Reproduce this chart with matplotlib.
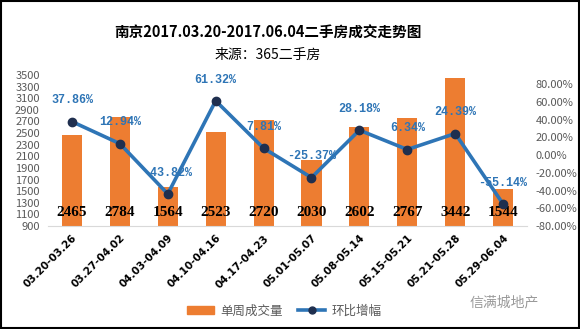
import matplotlib.pyplot as plt
from matplotlib.lines import Line2D
from matplotlib.patches import Patch, Rectangle
import numpy as np

plt.rcParams['font.family'] = ['Noto Sans CJK SC', 'DejaVu Sans']

# 周成交数据
weeks = ["03.20-03.26", "03.27-04.02", "04.03-04.09", "04.10-04.16", "04.17-04.23",
         "05.01-05.07", "05.08-05.14", "05.15-05.21", "05.21-05.28", "05.29-06.04"]
volume = [2465, 2784, 1564, 2523, 2720, 2030, 2602, 2767, 3442, 1544]
growth = [37.86, 12.94, -43.82, 61.32, 7.81, -25.37, 28.18, 6.34, 24.39, -55.14]

orange = "#ed7d31"
blue = "#2e75b6"
grey = "#595959"

fig = plt.figure(figsize=(5.8, 3.29), dpi=100)
ax = fig.add_axes([0.0828, 0.3131, 0.8259, 0.459])
ax2 = ax.twinx()

x = np.arange(len(weeks))
ax.bar(x, volume, width=0.42, color=orange, zorder=2)
ax.set_ylim(900, 3500)
ax.set_xlim(-0.5, len(weeks) - 0.5)
ax.set_yticks(np.arange(900, 3501, 200))
ax.tick_params(axis='y', length=0, labelsize=8, labelcolor=grey, pad=6)
ax.set_xticks(x)
ax.set_xticklabels(weeks, rotation=45, ha='right', rotation_mode='anchor',
                   fontsize=7.5, fontweight='bold', family='DejaVu Sans')
ax.tick_params(axis='x', length=0, pad=5)

for s in ['top', 'left', 'right']:
    ax.spines[s].set_visible(False)
    ax2.spines[s].set_visible(False)
ax.spines['bottom'].set_color("#d9d9d9")
ax2.spines['bottom'].set_visible(False)

# 柱内数值
for xi, v in zip(x, volume):
    ax.text(xi, 1020, str(v), ha='center', va='bottom', fontsize=11,
            fontweight='bold', family='Liberation Serif', color='black', zorder=5)

# 环比折线
ax2.plot(x, growth, color=blue, lw=2.6, marker='o', markersize=6,
         markerfacecolor="#1f2f4f", markeredgecolor="#1f2f4f", zorder=4)
ax2.set_ylim(-80, 90.5)
ax2.set_yticks(np.arange(-80, 81, 20))
ax2.set_yticklabels([f"{v:.2f}%" for v in np.arange(-80, 81, 20)])
ax2.tick_params(axis='y', length=0, labelsize=8, labelcolor=grey, pad=6)

for xi, g in zip(x, growth):
    ax2.annotate(f"{g:.2f}%", (xi, g), xytext=(0, 11), textcoords='offset points',
                 ha='center', va='bottom', fontsize=8.5, fontweight='bold',
                 family='Liberation Mono', color=blue, zorder=6)

# 标题
fig.text(0.462, 0.9, "南京2017.03.20-2017.06.04二手房成交走势图", ha='center',
         va='center', fontsize=10.5, fontweight='bold')
fig.text(0.462, 0.833, "来源：365二手房", ha='center', va='center', fontsize=10)

# 图例
handles = [Patch(color=orange),
           Line2D([0], [0], color=blue, lw=2.6, marker='o', markersize=5,
                  markerfacecolor="#1f2f4f", markeredgecolor="#1f2f4f")]
fig.legend(handles, ["单周成交量", "环比增幅"], loc='center',
           bbox_to_anchor=(0.49, 0.055), ncol=2, frameon=False, fontsize=9,
           labelcolor=grey, handlelength=2.2, columnspacing=1.2, handletextpad=0.5)

fig.text(0.87, 0.08, "信满城地产", ha='center', va='center', fontsize=10, color="#9a9a9a")

fig.patches.append(Rectangle((0.001, 0.002), 0.997, 0.995, transform=fig.transFigure,
                             fill=False, edgecolor='black', lw=1.5))

fig.savefig("out.png", dpi=100)
